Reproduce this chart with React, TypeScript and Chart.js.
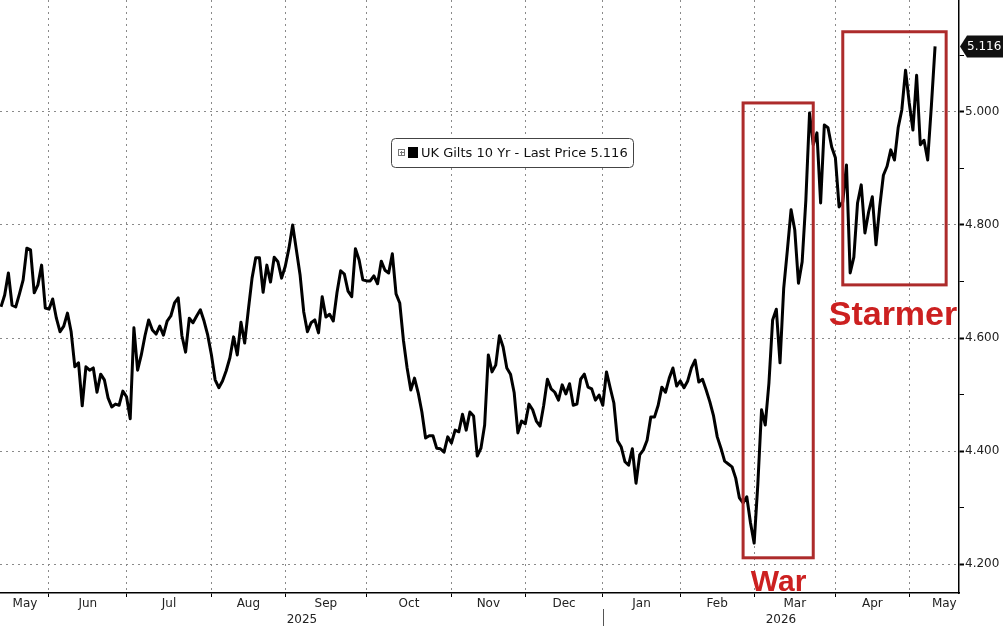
import React, { useEffect, useRef } from 'react';
import { Chart, registerables } from 'chart.js';

Chart.register(...registerables);

// ---------- data ----------
const START_DATE = '2025-05-13';
const AXIS_END_DATE = '2026-06-30';
const UK_HOLIDAYS = [
  '2025-05-26', '2025-08-25', '2025-12-25', '2025-12-26',
  '2026-01-01', '2026-04-03', '2026-04-06', '2026-05-04', '2026-05-25',
];
const SERIES_LABEL = 'UK Gilts 10 Yr - Last Price';
const LAST_PRICE = 5.116;

// one value per UK business day starting at START_DATE
const gilt10y = [
  4.655, 4.676, 4.715, 4.658, 4.655, 4.678, 4.703, 4.759, 4.756, 4.680,
  4.694, 4.729, 4.653, 4.651, 4.669, 4.635, 4.611, 4.621, 4.644, 4.611,
  4.549, 4.556, 4.480, 4.549, 4.543, 4.547, 4.504, 4.536, 4.526, 4.494,
  4.478, 4.483, 4.481, 4.506, 4.496, 4.457, 4.618, 4.543, 4.570, 4.604,
  4.632, 4.614, 4.607, 4.621, 4.605, 4.630, 4.639, 4.662, 4.671, 4.604,
  4.575, 4.635, 4.627, 4.639, 4.650, 4.630, 4.605, 4.570, 4.526, 4.512,
  4.524, 4.542, 4.565, 4.602, 4.570, 4.628, 4.591, 4.650, 4.706, 4.742,
  4.742, 4.681, 4.729, 4.699, 4.743, 4.735, 4.706, 4.727, 4.759, 4.800,
  4.756, 4.712, 4.646, 4.611, 4.627, 4.632, 4.609, 4.673, 4.637, 4.642,
  4.630, 4.680, 4.719, 4.713, 4.683, 4.673, 4.758, 4.738, 4.703, 4.701,
  4.701, 4.710, 4.696, 4.736, 4.720, 4.715, 4.749, 4.678, 4.662, 4.596,
  4.547, 4.508, 4.529, 4.503, 4.469, 4.423, 4.427, 4.427, 4.405, 4.404,
  4.398, 4.425, 4.414, 4.437, 4.434, 4.465, 4.437, 4.469, 4.462, 4.391,
  4.405, 4.446, 4.570, 4.540, 4.552, 4.604, 4.584, 4.547, 4.536, 4.503,
  4.432, 4.453, 4.448, 4.483, 4.473, 4.453, 4.444, 4.481, 4.527, 4.510,
  4.504, 4.490, 4.517, 4.501, 4.519, 4.481, 4.483, 4.527, 4.536, 4.513,
  4.510, 4.490, 4.499, 4.481, 4.540, 4.512, 4.485, 4.418, 4.407, 4.381,
  4.375, 4.404, 4.343, 4.393, 4.402, 4.419, 4.460, 4.460, 4.481, 4.513,
  4.504, 4.529, 4.547, 4.515, 4.524, 4.512, 4.524, 4.547, 4.561, 4.522,
  4.527, 4.508, 4.487, 4.462, 4.425, 4.405, 4.382, 4.377, 4.372, 4.352,
  4.317, 4.308, 4.319, 4.273, 4.237, 4.342, 4.473, 4.446, 4.520, 4.632,
  4.651, 4.556, 4.688, 4.756, 4.827, 4.791, 4.697, 4.735, 4.844, 4.998,
  4.942, 4.963, 4.839, 4.977, 4.972, 4.938, 4.919, 4.832, 4.841, 4.906,
  4.715, 4.743, 4.839, 4.871, 4.786, 4.823, 4.850, 4.765, 4.832, 4.888,
  4.904, 4.933, 4.915, 4.972, 5.004, 5.074, 5.016, 4.968, 5.065, 4.942,
  4.950, 4.915, 5.011, 5.116,
];

const MONTH_NAMES = ['Jan', 'Feb', 'Mar', 'Apr', 'May', 'Jun', 'Jul', 'Aug', 'Sep', 'Oct', 'Nov', 'Dec'];
const Y_TICKS = [4.2, 4.3, 4.4, 4.5, 4.6, 4.7, 4.8, 4.9, 5.0, 5.1];
const Y_MIN = 4.1487;
const Y_MAX = 5.1982;
const X_MIN = -0.27;
const X_MAX = 259.48;

const BOXES = [
  { label: 'War', from: '2026-02-25', to: '2026-03-24', low: 4.211, high: 5.016 },
  { label: 'Starmer', from: '2026-04-07', to: '2026-05-18', low: 4.694, high: 5.142 },
];
const BOX_TEXTS = [
  { label: 'War', at: 210.6, value: 4.152, size: 30 },
  { label: 'Starmer', at: 241.6, value: 4.623, size: 34 },
];

// ---------- helpers ----------
function buildBusinessDays(start: string, end: string, holidays: string[]) {
  const out: string[] = [];
  const d = new Date(start + 'T00:00:00Z');
  const e = new Date(end + 'T00:00:00Z');
  const hol = new Set(holidays);
  while (d <= e) {
    const dow = d.getUTCDay();
    const iso = d.toISOString().slice(0, 10);
    if (dow !== 0 && dow !== 6 && !hol.has(iso)) out.push(iso);
    d.setUTCDate(d.getUTCDate() + 1);
  }
  return out;
}

const businessDays = buildBusinessDays(START_DATE, AXIS_END_DATE, UK_HOLIDAYS);
const dateIndex = (iso: string) => businessDays.indexOf(iso);

type Seg = { key: string; label: string; year: number; start: number; end: number };
const monthSegs: Seg[] = [];
businessDays.forEach((iso, i) => {
  const key = iso.slice(0, 7);
  const last = monthSegs[monthSegs.length - 1];
  if (!last || last.key !== key) {
    if (last) last.end = i;
    monthSegs.push({ key, label: MONTH_NAMES[Number(iso.slice(5, 7)) - 1], year: Number(iso.slice(0, 4)), start: i, end: i + 1 });
  } else {
    last.end = i + 1;
  }
});
const monthStartTicks = monthSegs.slice(1).map((s) => s.start).filter((v) => v <= X_MAX);

const isMajor = (v: number) => Math.round(v * 10) % 2 === 0;

const overlayPlugin = {
  id: 'overlay',
  afterDraw(chart: any) {
    const { ctx, chartArea, scales } = chart;
    const x = scales.x;
    const y = scales.y;
    ctx.save();

    // annotation boxes
    BOXES.forEach((b) => {
      const x0 = x.getPixelForValue(dateIndex(b.from));
      const x1 = x.getPixelForValue(dateIndex(b.to));
      const y0 = y.getPixelForValue(b.high);
      const y1 = y.getPixelForValue(b.low);
      ctx.strokeStyle = '#ad2b2b';
      ctx.lineWidth = 3;
      ctx.strokeRect(x0, y0, x1 - x0, y1 - y0);
    });
    BOX_TEXTS.forEach((t) => {
      ctx.font = `bold ${t.size}px "Liberation Sans", Arial, sans-serif`;
      ctx.fillStyle = '#cc2020';
      ctx.textAlign = 'center';
      ctx.textBaseline = 'alphabetic';
      ctx.fillText(t.label, x.getPixelForValue(t.at), y.getPixelForValue(t.value));
    });

    // month labels
    ctx.font = '12px "DejaVu Sans", sans-serif';
    ctx.fillStyle = '#222';
    ctx.textAlign = 'center';
    ctx.textBaseline = 'middle';
    monthSegs.forEach((s) => {
      const a = Math.max(s.start, x.min);
      const cx = x.getPixelForValue((a + s.end) / 2);
      if (cx < chartArea.left || cx > chartArea.right) return;
      ctx.fillText(s.label, cx, chartArea.bottom + 11);
    });

    // year labels and separators
    const years = Array.from(new Set(monthSegs.map((s) => s.year)));
    years.forEach((yr, k) => {
      const segs = monthSegs.filter((s) => s.year === yr);
      const a = Math.max(segs[0].start, x.min);
      const b = Math.min(segs[segs.length - 1].end, x.max);
      if (b <= a) return;
      const cx = (x.getPixelForValue(a) + x.getPixelForValue(b)) / 2;
      ctx.fillStyle = '#222';
      ctx.fillText(String(yr), cx, chartArea.bottom + 27);
      if (k > 0) {
        const sx = Math.round(x.getPixelForValue(segs[0].start)) + 0.5;
        ctx.strokeStyle = '#555';
        ctx.lineWidth = 1;
        ctx.beginPath();
        ctx.moveTo(sx, chartArea.bottom + 16);
        ctx.lineTo(sx, chart.height);
        ctx.stroke();
      }
    });

    // legend box
    const lx = 391, ly = 138, lw = 242, lh = 29;
    ctx.fillStyle = '#fff';
    ctx.strokeStyle = '#444';
    ctx.lineWidth = 1;
    ctx.beginPath();
    (ctx as any).roundRect(lx + 0.5, ly + 0.5, lw, lh, 4);
    ctx.fill();
    ctx.stroke();
    ctx.strokeStyle = '#777';
    ctx.strokeRect(lx + 7.5, ly + 11.5, 6, 6);
    ctx.beginPath();
    ctx.moveTo(lx + 9, ly + 14.5); ctx.lineTo(lx + 13, ly + 14.5);
    ctx.moveTo(lx + 10.5, ly + 13); ctx.lineTo(lx + 10.5, ly + 17);
    ctx.stroke();
    ctx.fillStyle = '#000';
    ctx.fillRect(lx + 17, ly + 9, 10, 11);
    ctx.font = '13px "DejaVu Sans", sans-serif';
    ctx.textAlign = 'left';
    ctx.textBaseline = 'middle';
    ctx.fillStyle = '#111';
    ctx.fillText(`${SERIES_LABEL} ${LAST_PRICE.toFixed(3)}`, lx + 30, ly + lh / 2 + 1);

    // last price tag
    const yp = y.getPixelForValue(LAST_PRICE);
    const tx = chartArea.right + 1;
    ctx.fillStyle = '#111';
    ctx.beginPath();
    ctx.moveTo(tx, yp);
    ctx.lineTo(tx + 7, yp - 11);
    ctx.lineTo(chart.width, yp - 11);
    ctx.lineTo(chart.width, yp + 11);
    ctx.lineTo(tx + 7, yp + 11);
    ctx.closePath();
    ctx.fill();
    ctx.fillStyle = '#fff';
    ctx.font = '12px "DejaVu Sans", sans-serif';
    ctx.textAlign = 'left';
    ctx.fillText(LAST_PRICE.toFixed(3), tx + 7, yp + 0.5);

    ctx.restore();
  },
};

export default function App() {
  const ref = useRef<HTMLCanvasElement>(null);
  useEffect(() => {
    const canvas = ref.current;
    if (!canvas) return;
    const chart = new Chart(canvas, {
      type: 'line',
      data: {
        datasets: [
          {
            label: SERIES_LABEL,
            data: gilt10y.map((v, i) => ({ x: i, y: v })),
            borderColor: '#000',
            borderWidth: 3,
            borderJoinStyle: 'round',
            pointRadius: 0,
            tension: 0,
            fill: false,
          },
        ],
      },
      options: {
        animation: false,
        responsive: false,
        layout: { padding: 0 },
        plugins: { legend: { display: false }, tooltip: { enabled: false } },
        scales: {
          x: {
            type: 'linear',
            min: X_MIN,
            max: X_MAX,
            afterBuildTicks: (scale: any) => {
              scale.ticks = monthStartTicks.map((v) => ({ value: v }));
            },
            afterFit: (scale: any) => {
              scale.height = 33;
              scale.paddingLeft = 0;
              scale.paddingRight = 0;
            },
            ticks: { display: false },
            grid: {
              color: '#8a8a8a',
              lineWidth: 1,
              drawTicks: true,
              tickLength: 4,
              tickColor: '#000',
              tickWidth: 1,
            },
            border: { display: true, color: '#000', width: 1.5, dash: [2, 4] },
          },
          y: {
            type: 'linear',
            position: 'right',
            min: Y_MIN,
            max: Y_MAX,
            afterBuildTicks: (scale: any) => {
              scale.ticks = Y_TICKS.map((v) => ({ value: v }));
            },
            afterFit: (scale: any) => {
              scale.width = 44;
              scale.paddingTop = 0;
              scale.paddingBottom = 0;
            },
            ticks: {
              padding: 1,
              color: '#222',
              font: { family: '"DejaVu Sans", sans-serif', size: 12 },
              callback: (v: any) => (isMajor(Number(v)) ? Number(v).toFixed(3) : ''),
            },
            grid: {
              color: (c: any) => (c.tick && isMajor(c.tick.value) ? '#8a8a8a' : 'rgba(0,0,0,0)'),
              lineWidth: 1,
              drawTicks: true,
              tickLength: 5,
              tickColor: '#000',
              tickWidth: (c: any) => (c.tick && isMajor(c.tick.value) ? 2 : 1),
            },
            border: { display: true, color: '#000', width: 1.5, dash: [2, 4] },
          },
        },
      },
      plugins: [overlayPlugin],
    } as any);
    return () => chart.destroy();
  }, []);

  return (
    <div style={{ position: 'fixed', left: 0, top: 0, width: 1003, height: 626, background: '#fff' }}>
      <canvas ref={ref} width={1003} height={626} style={{ display: 'block', width: 1003, height: 626 }} />
    </div>
  );
}
